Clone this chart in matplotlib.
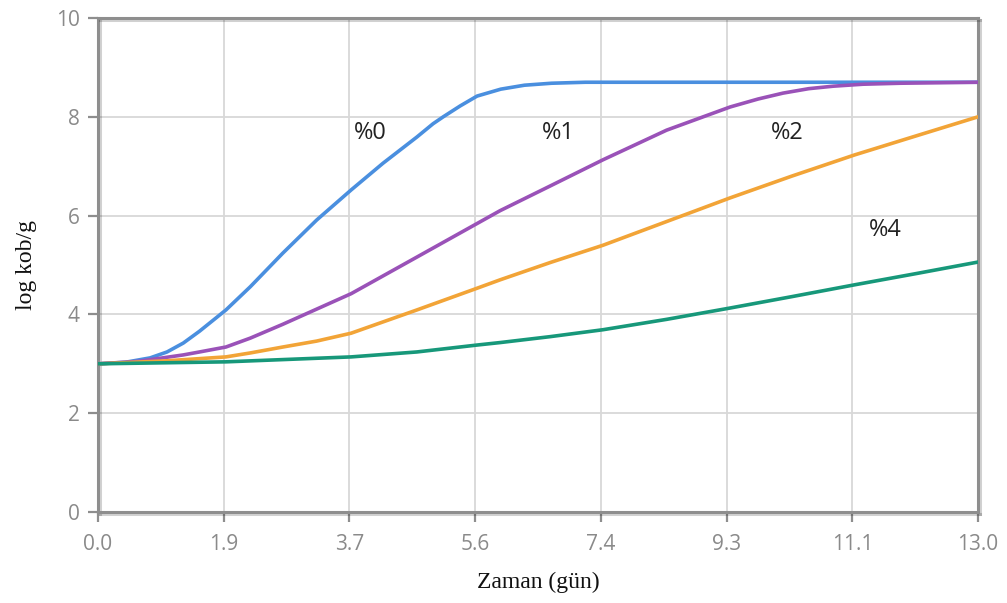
"""Bacterial growth curves (log kob/g) vs time for several concentrations."""

import matplotlib

matplotlib.use("Agg")
import matplotlib.pyplot as plt
import matplotlib.patheffects as pe

# ---- data ------------------------------------------------------------------
t_0 = [0, 0.4, 0.77, 1.02, 1.26, 1.5, 1.89, 2.25, 2.73, 3.23, 3.74, 4.21,
       4.71, 4.95, 5.1, 5.35, 5.6, 5.95, 6.3, 6.7, 7.2, 8.0, 9.5, 11.0, 13.0]
v_0 = [3.0, 3.03, 3.12, 3.24, 3.42, 3.66, 4.09, 4.56, 5.24, 5.91, 6.52, 7.06,
       7.59, 7.86, 8.0, 8.22, 8.42, 8.56, 8.64, 8.68, 8.7, 8.7, 8.7, 8.7, 8.7]

t_1 = [0, 0.6, 1.26, 1.5, 1.89, 2.25, 2.73, 3.74, 4.71, 5.6, 5.94, 6.68,
       7.46, 8.4, 9.34, 9.75, 10.12, 10.5, 10.86, 11.3, 11.85, 13.0]
v_1 = [3.0, 3.05, 3.18, 3.24, 3.34, 3.52, 3.8, 4.42, 5.16, 5.84, 6.1, 6.6,
       7.13, 7.73, 8.2, 8.36, 8.48, 8.57, 8.62, 8.66, 8.68, 8.7]

t_2 = [0, 1.0, 1.89, 2.25, 2.73, 3.23, 3.74, 4.71, 5.6, 5.94, 6.68, 7.46,
       8.4, 9.34, 10.25, 11.18, 12.1, 13.0]
v_2 = [3.0, 3.06, 3.14, 3.22, 3.34, 3.46, 3.62, 4.09, 4.53, 4.7, 5.05, 5.4,
       5.88, 6.36, 6.8, 7.23, 7.62, 8.0]

t_4 = [0, 1.89, 3.74, 4.71, 5.6, 5.94, 6.68, 7.46, 8.4, 9.34, 10.25, 11.18,
       12.1, 13.0]
v_4 = [3.0, 3.04, 3.14, 3.24, 3.38, 3.43, 3.55, 3.69, 3.9, 4.13, 4.36, 4.6,
       4.83, 5.06]

series = [
    ("%0", t_0, v_0, "#4a8fdf"),
    ("%1", t_1, v_1, "#9a52b8"),
    ("%2", t_2, v_2, "#f2a437"),
    ("%4", t_4, v_4, "#17987a"),
]

# label positions (data coords)
label_names = ["%0", "%1", "%2", "%4"]
label_x = [4.02, 6.8, 10.18, 11.63]
label_y = [7.67, 7.67, 7.67, 5.71]

x_ticks = [13 * i / 7 for i in range(8)]
x_tick_labels = [f"{v:.1f}" for v in x_ticks]
y_ticks = [0, 2, 4, 6, 8, 10]

# ---- figure ----------------------------------------------------------------
fig = plt.figure(figsize=(10.07, 6.03), dpi=100)
ax = fig.add_axes([0.0973, 0.1509, 0.8739, 0.8192])

for name, t, v, color in series:
    ax.plot(t, v, color=color, lw=2.6, solid_capstyle="round",
            solid_joinstyle="round", zorder=3)

for name, x, y in zip(label_names, label_x, label_y):
    ax.text(x, y, name, ha="center", va="center", fontsize=17,
            family="Open Sans", color="#222222", zorder=4)

ax.set_xlim(0, 13)
ax.set_ylim(0, 10)
ax.set_xticks(x_ticks)
ax.set_xticklabels(x_tick_labels)
ax.set_yticks(y_ticks)

ax.grid(True, color="#d8d8d8", lw=1.3)
ax.set_axisbelow(True)

shadow = [pe.SimpleLineShadow(offset=(1.5, -1.5), shadow_color="#000000",
                              alpha=0.18), pe.Normal()]
for side in ["left", "right", "top", "bottom"]:
    ax.spines[side].set_color("#8e8e8e")
    ax.spines[side].set_linewidth(2.2)
    ax.spines[side].set_path_effects(shadow)

ax.tick_params(axis="both", colors="#8e8e8e", length=7, width=1.6,
               labelsize=15, labelcolor="#8a8a8a")
ax.tick_params(axis="x", pad=9)
ax.tick_params(axis="y", pad=6)
for lbl in ax.get_xticklabels() + ax.get_yticklabels():
    lbl.set_family("Open Sans")

ax.set_xlabel("Zaman (gün)", family="Liberation Serif", fontsize=17,
              color="#111111", labelpad=12)
ax.set_ylabel("log kob/g", family="Liberation Serif", fontsize=17,
              color="#111111", labelpad=14)

fig.savefig("out.png", dpi=100)
plt.close(fig)
